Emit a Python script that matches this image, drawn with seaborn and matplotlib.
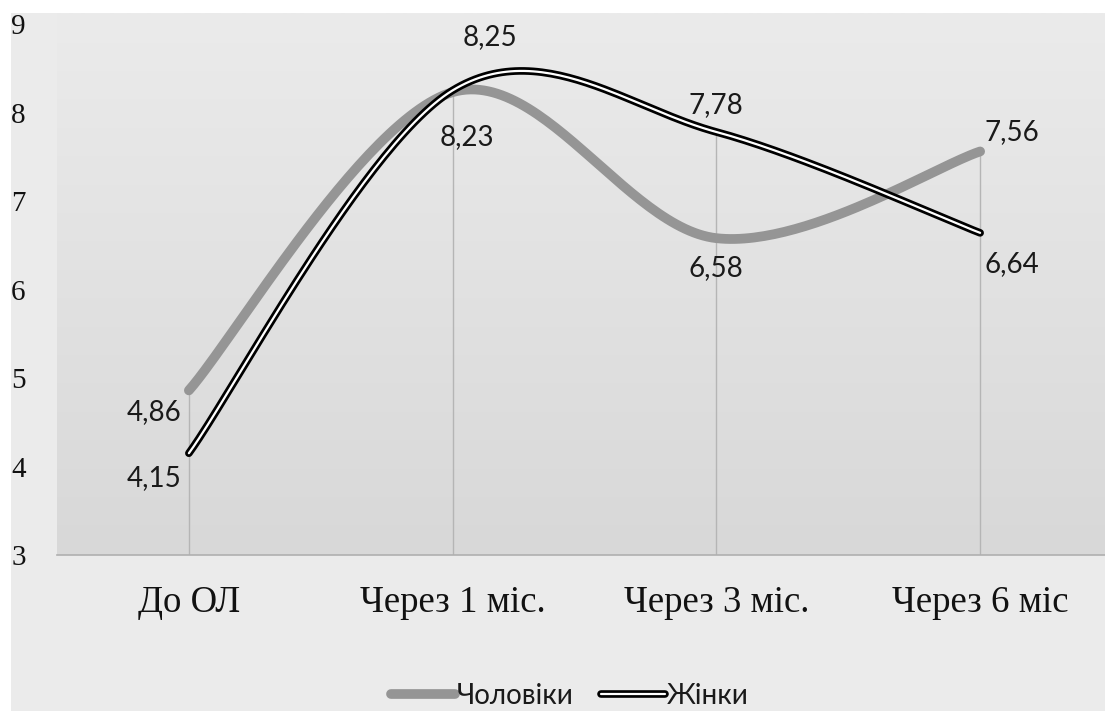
import numpy as np
import matplotlib
matplotlib.use("Agg")
import matplotlib.pyplot as plt
import seaborn as sns
import pandas as pd
from matplotlib.lines import Line2D
import matplotlib.patheffects as pe

categories = ["До ОЛ", "Через 1 міс.", "Через 3 міс.", "Через 6 міс"]
men = [4.86, 8.23, 6.58, 7.56]
women = [4.15, 8.25, 7.78, 6.64]
series_names = ["Чоловіки", "Жінки"]
yticks = [3, 4, 5, 6, 7, 8, 9]

sns.set_theme(style="white")
plt.rcParams['font.family'] = ['DejaVu Sans']

W, H = 1105, 711
fig = plt.figure(figsize=(W / 100, H / 100), dpi=100)
fig.patch.set_facecolor("white")
# grey chart-area background
bg = fig.add_axes([11 / W, 0, 1 - 11 / W, 1 - 13 / H], zorder=-10)
bg.set_facecolor("#ebebeb")
bg.set_axis_off()
bg.add_patch(plt.Rectangle((0, 0), 1, 1, transform=bg.transAxes, facecolor="#ebebeb", edgecolor="none"))

left, right, top, bottom = 57, 1112, 13, 555
ax = fig.add_axes([left / W, 1 - bottom / H, (right - left) / W, (bottom - top) / H], zorder=1)
ax.set_facecolor("none")
ymax = 9 + (24 - 13) / 88.5

# gradient background
grad = np.linspace(0, 1, 256).reshape(-1, 1)
c_top = np.array([0xeb, 0xeb, 0xeb]) / 255
c_bot = np.array([0xd8, 0xd8, 0xd8]) / 255
img = c_top + (c_bot - c_top) * grad[..., None]
ax.imshow(img, extent=(-0.5, 3.5, 3, ymax), aspect="auto", origin="upper", zorder=0)
ax.set_xlim(-0.5, 3.5)
ax.set_ylim(3, ymax)


def smooth(xs, ys, n=60):
    P = np.column_stack([xs, ys]).astype(float)
    m = len(P)
    out = []
    for i in range(m - 1):
        p0 = P[max(i - 1, 0)]
        p1 = P[i]
        p2 = P[i + 1]
        p3 = P[min(i + 2, m - 1)]
        c1 = p1 + (p2 - p0) / 6
        c2 = p2 - (p3 - p1) / 6
        t = np.linspace(0, 1, n)[:, None]
        seg = ((1 - t) ** 3) * p1 + 3 * ((1 - t) ** 2) * t * c1 + 3 * (1 - t) * t ** 2 * c2 + t ** 3 * p2
        out.append(seg if i == 0 else seg[1:])
    return np.vstack(out)


x = np.arange(len(categories))

# drop lines
ax.vlines(x, 3, np.maximum(men, women), color="#b5b5b5", lw=1, zorder=1)

double = [pe.Stroke(linewidth=5.5, foreground="black", capstyle="round"), pe.Normal()]

sm = smooth(x, men)
sw = smooth(x, women)
dm = pd.DataFrame({"x": sm[:, 0], "y": sm[:, 1]})
dw = pd.DataFrame({"x": sw[:, 0], "y": sw[:, 1]})
sns.lineplot(data=dm, x="x", y="y", sort=False, color="#959595", lw=7, ax=ax, zorder=3,
             solid_capstyle="round", estimator=None)
sns.lineplot(data=dw, x="x", y="y", sort=False, color="white", lw=1.6, ax=ax, zorder=5,
             solid_capstyle="round", estimator=None, path_effects=double)

lab_font = dict(family=["Lato", "DejaVu Sans"], fontsize=20, color="#1a1a1a")
men_off = [(-7, 22, "right"), (14, 45, "center"), (0, 30, "center"), (32, -19, "center")]
women_off = [(-7, 25, "right"), (37, -53, "center"), (0, -27, "center"), (32, 31, "center")]
for xi, v, (dx, dy, ha) in zip(x, men, men_off):
    ax.annotate(f"{v:.2f}".replace(".", ","), (xi, v), xytext=(dx, -dy), textcoords="offset pixels",
                ha=ha, va="center", zorder=6, **lab_font)
for xi, v, (dx, dy, ha) in zip(x, women, women_off):
    ax.annotate(f"{v:.2f}".replace(".", ","), (xi, v), xytext=(dx, -dy), textcoords="offset pixels",
                ha=ha, va="center", zorder=6, **lab_font)

ax.set_xticks(x)
ax.set_xticklabels(categories, family=["Liberation Serif"], fontsize=26.5, color="#111111")
ax.set_yticks(yticks)
ax.set_yticklabels([str(t) for t in yticks], family=["Liberation Serif"], fontsize=21,
                   color="#111111", ha="left")
ax.tick_params(axis="y", length=0, pad=33)
ax.tick_params(axis="x", length=0, pad=22)
ax.set_xlabel("")
ax.set_ylabel("")
for s in ["top", "right", "left"]:
    ax.spines[s].set_visible(False)
ax.spines["bottom"].set_color("#b0b0b0")
ax.spines["bottom"].set_linewidth(1.2)
ax.spines["bottom"].set_zorder(2)

h_men = Line2D([], [], color="#959595", lw=7, solid_capstyle="round")
h_w = Line2D([], [], color="white", lw=1.6, solid_capstyle="round", path_effects=double)
leg = fig.legend([h_men, h_w], series_names,
                 loc="center", bbox_to_anchor=(570 / W, 1 - 696 / H), ncol=2, frameon=False,
                 handlelength=2.3, handletextpad=0.05, columnspacing=1.0,
                 prop=dict(family=["Lato", "DejaVu Sans"], size=20))
for t in leg.get_texts():
    t.set_color("#1a1a1a")

fig.savefig("out.png", dpi=100, facecolor=fig.get_facecolor())
